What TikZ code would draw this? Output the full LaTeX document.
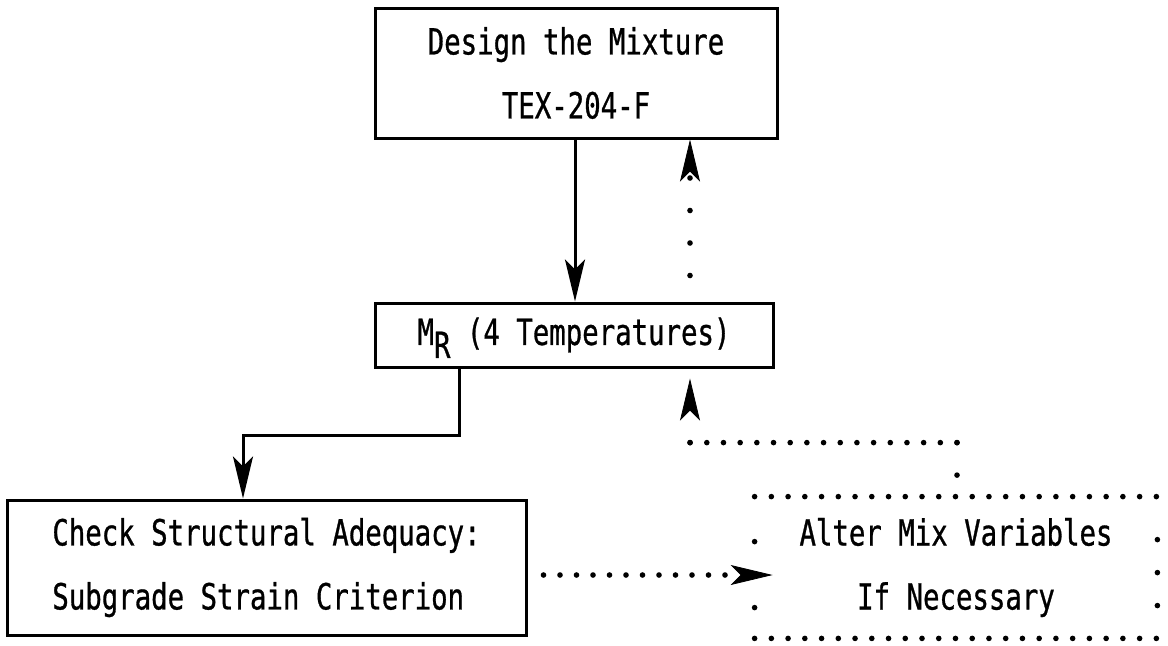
\documentclass[tikz,border=0pt]{standalone}
\usepackage{fontspec}
\usepackage{tikz}
\usetikzlibrary{arrows.meta, positioning, calc}
\newfontfamily\typewriter[FakeStretch=0.76, FakeBold=0.8]{DejaVu Sans Mono}

\begin{document}
\begin{tikzpicture}[
    x=0.5pt, y=-0.5pt,
    typed/.style={font=\typewriter\fontsize{18pt}{32pt}\selectfont},
    box/.style={typed, draw=black, line width=1.5pt, inner sep=0pt, align=center},
    flow/.style={line width=1.5pt, -{Stealth[length=21pt, width=10pt, inset=5pt]}},
    dotrow/.style={line width=2.8pt, line cap=round, dash pattern=on 0pt off #1},
    dotflow/.style={dotrow=#1, -{Stealth[length=21pt, width=10pt, inset=5pt, line width=0.4pt]}}
]
\useasboundingbox (0,0) rectangle (1168,645);

% Boxes
\node[box, minimum width=201pt, minimum height=65pt] (design) at (576,73)
    {Design the Mixture\\TEX-204-F};
\node[box, minimum width=199pt, minimum height=32pt] (mr) at (574,335)
    {M\raisebox{-6.5pt}[0pt][0pt]{R} (4 Temperatures)};
\node[box, align=left, minimum width=259.5pt, minimum height=67.5pt] (check) at (266.5,567.5)
    {Check Structural Adequacy:\\Subgrade Strain Criterion};
\node[typed, align=center, inner sep=0pt, minimum width=201pt, minimum height=70.5pt] (alter) at (956,567.5)
    {Alter Mix Variables\\If Necessary};

% Typed dotted frame round the alter box
\draw[dotrow=8.37pt] (alter.north west) -- (alter.north east);
\draw[dotrow=8.37pt] (alter.south west) -- (alter.south east);
\draw[dotrow=16.49pt] ([yshift=-21.5pt]alter.north east) -- ([yshift=16pt]alter.south east);
\draw[dotrow=32.99pt] ([yshift=-22.5pt]alter.north west) -- ([yshift=15pt]alter.south west);

% Solid flow
\draw[flow] ([xshift=-0.5pt]design.south) -- ([xshift=-0.5pt]design.south |- mr.north);
\coordinate (bend) at (243,435);
\draw[flow] ([xshift=-57.5pt]mr.south) |- (bend) -- (bend |- check.north);

% Dotted feedback
\coordinate (out) at ([xshift=8pt, yshift=-3.75pt]check.east);
\coordinate (in) at ([xshift=9pt]alter.west);
\draw[dotflow=8.25pt] (out) -- (out -| in);

\coordinate (elbow) at ([xshift=0.5pt, yshift=27pt]alter.north);
\coordinate (up) at ([xshift=58pt, yshift=13pt]mr.north);
\draw[dotrow=16.25pt] (elbow) -- ([xshift=0.5pt]alter.north);
\draw[dotrow=8.34pt] (elbow) -- (elbow -| up);
\draw[dotflow=16.25pt, shorten >=5pt] (elbow -| up) -- (up |- mr.south);
\draw[dotflow=16.25pt] (up) -- (up |- design.south);
\end{tikzpicture}
\end{document}
